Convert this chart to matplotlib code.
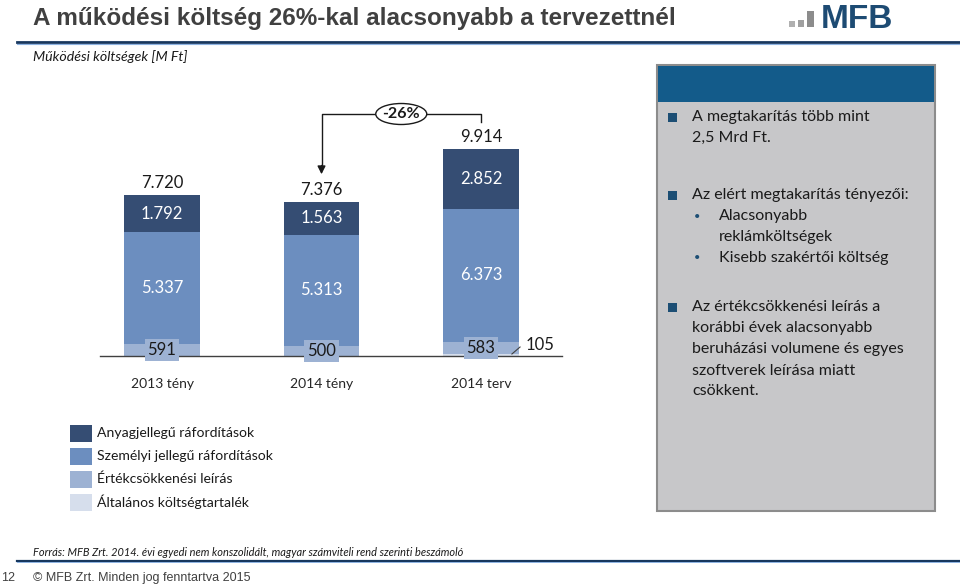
import matplotlib
matplotlib.use("Agg")
import matplotlib.pyplot as plt
from matplotlib.patches import Rectangle, Ellipse
from matplotlib.lines import Line2D

# ---------------- data ----------------
categories = ['2013 tény', '2014 tény', '2014 terv']
altalanos = [0, 0, 105]          # Általános költségtartalék
ertekcsokk = [591, 500, 583]     # Értékcsökkenési leírás
szemelyi = [5337, 5313, 6373]    # Személyi jellegű ráfordítások
anyag = [1792, 1563, 2852]       # Anyagjellegű ráfordítások
totals = [7720, 7376, 9914]
change_label = '-26%'

series_names = ['Anyagjellegű ráfordítások', 'Személyi jellegű ráfordítások',
                'Értékcsökkenési leírás', 'Általános költségtartalék']
colors = {'anyag': '#354D73', 'szemelyi': '#6C8EBF',
          'ertek': '#9DB2D3', 'alt': '#D6DEEC'}

BODY = ['Lato', 'DejaVu Sans']
NARROW = ['Liberation Sans Narrow', 'Liberation Sans', 'DejaVu Sans']
W, H = 960, 588


def fmt(v):
    return f"{v:,}".replace(',', '.')


def fx(px):
    return px / W


def fy(py):
    return 1 - py / H


fig = plt.figure(figsize=(9.6, 5.88), dpi=100)
fig.patch.set_facecolor('white')

# ---------------- header ----------------
fig.text(fx(33), fy(18), 'A működési költség 26%-kal alacsonyabb a tervezettnél',
         fontsize=17.5, weight='bold', color='#404040', va='center', ha='left',
         family=NARROW)
fig.add_artist(Line2D([fx(17), fx(960)], [fy(41.5), fy(41.5)], color='#17375E', lw=2.0))
fig.add_artist(Line2D([fx(17), fx(960)], [fy(43.5), fy(43.5)], color='#8DB3E2', lw=0.8))

# logo
for (x0, y0, x1, c) in [(789, 21, 795, '#B0B0B0'), (798, 20, 804, '#A0A0A0'), (807, 11, 814, '#8C8C8C')]:
    fig.add_artist(Rectangle((fx(x0), fy(27)), fx(x1) - fx(x0), fy(y0) - fy(27),
                             transform=fig.transFigure, color=c, lw=0))
fig.text(fx(821), fy(27.5), 'MFB', fontsize=24, weight='bold', color='#1D4B73',
         va='baseline', ha='left', family=['Liberation Sans', 'DejaVu Sans'])

fig.text(fx(33), fy(57), 'Működési költségek [M Ft]', fontsize=10.2, style='italic',
         color='#1a1a1a', va='center', ha='left', family=BODY)

# ---------------- bar chart ----------------
ax = fig.add_axes([fx(100), fy(356), (562 - 100) / W, (356 - 90) / H])
px_per_unit = 207 / 9914
ymax = 266 / px_per_unit
ax.set_ylim(0, ymax)
ax.set_xlim(-0.389, 2.508)
for s in ['top', 'right', 'left']:
    ax.spines[s].set_visible(False)
ax.spines['bottom'].set_color('#404040')
ax.spines['bottom'].set_linewidth(1.0)
ax.set_yticks([])
ax.set_xticks([])
ax.patch.set_alpha(0)

x = list(range(len(categories)))
bw = 0.476
ax.bar(x, altalanos, bw, color=colors['alt'], lw=0)
bottom1 = [a for a in altalanos]
ax.bar(x, ertekcsokk, bw, bottom=bottom1, color=colors['ertek'], lw=0)
bottom2 = [a + b for a, b in zip(bottom1, ertekcsokk)]
ax.bar(x, szemelyi, bw, bottom=bottom2, color=colors['szemelyi'], lw=0)
bottom3 = [a + b for a, b in zip(bottom2, szemelyi)]
ax.bar(x, anyag, bw, bottom=bottom3, color=colors['anyag'], lw=0)

for i in x:
    ax.text(i, bottom3[i] + anyag[i] / 2, fmt(anyag[i]), ha='center', va='center',
            color='white', fontsize=12, family=BODY)
    ax.text(i, bottom2[i] + szemelyi[i] / 2, fmt(szemelyi[i]), ha='center', va='center',
            color='white', fontsize=12, family=BODY)
    ax.text(i, bottom1[i] + ertekcsokk[i] / 2, fmt(ertekcsokk[i]), ha='center', va='center',
            color='#1a1a1a', fontsize=12, family=BODY,
            bbox=dict(boxstyle='square,pad=0.18', fc=colors['ertek'], ec='none'))
    ax.text(i, totals[i] + 12 / px_per_unit, fmt(totals[i]), ha='center', va='center',
            color='#1a1a1a', fontsize=12, family=BODY)
    ax.text(i, -28 / px_per_unit, categories[i], ha='center', va='center',
            color='#262626', fontsize=10, family=BODY, clip_on=False)

# 105 label with leader
ax.plot([2.194, 2.245], [96, 431], color='#404040', lw=0.8, clip_on=False)
ax.text(2.28, 527, fmt(altalanos[2]), ha='left', va='center', color='#1a1a1a',
        fontsize=12, family=BODY, clip_on=False)

# -26% bracket
yb = (356 - 114) / px_per_unit
ax.plot([2.0, 2.0, 1.0, 1.0], [totals[2] + 1300, yb, yb, totals[1] + 1700],
        color='#1a1a1a', lw=1.0, clip_on=False)
ax.annotate('', xy=(1.0, totals[1] + 1330), xytext=(1.0, totals[1] + 1750),
            arrowprops=dict(arrowstyle='-|>', color='#1a1a1a', lw=1.0,
                            mutation_scale=12, shrinkA=0, shrinkB=0))
ell = Ellipse((1.5, yb), 51 / 159.5, 21 / px_per_unit, fc='white', ec='#1a1a1a', lw=1.0, zorder=5)
ax.add_patch(ell)
ax.text(1.5, yb, change_label, ha='center', va='center', fontsize=11.5, weight='bold',
        color='#1a1a1a', family=BODY, zorder=6)

# ---------------- legend ----------------
leg_colors = [colors['anyag'], colors['szemelyi'], colors['ertek'], colors['alt']]
for k, (name, c) in enumerate(zip(series_names, leg_colors)):
    yc = 433 + 23 * k
    fig.add_artist(Rectangle((fx(70), fy(yc + 8.5)), fx(92) - fx(70), fy(yc - 8.5) - fy(yc + 8.5),
                             transform=fig.transFigure, color=c, lw=0))
    fig.text(fx(97), fy(yc), name, fontsize=10.1, color='#1a1a1a', va='center', ha='left',
             family=BODY)

# ---------------- right info box ----------------
fig.add_artist(Rectangle((fx(657), fy(511)), fx(935) - fx(657), fy(65) - fy(511),
                         transform=fig.transFigure, fc='#C7C7C9', ec='#8C8C8C', lw=1.5))
fig.add_artist(Rectangle((fx(658), fy(102)), fx(934) - fx(658), fy(66) - fy(102),
                         transform=fig.transFigure, fc='#135B8A', ec='none', lw=0))

lines = [
    ('sq', 117, 'A megtakarítás több mint'),
    ('', 138, '2,5 Mrd Ft.'),
    ('sq', 195, 'Az elért megtakarítás tényezői:'),
    ('dot', 216, 'Alacsonyabb'),
    ('', 237, 'reklámköltségek'),
    ('dot', 258, 'Kisebb szakértői költség'),
    ('sq', 307, 'Az értékcsökkenési leírás a'),
    ('', 328, 'korábbi évek alacsonyabb'),
    ('', 349, 'beruházási volumene és egyes'),
    ('', 371, 'szoftverek leírása miatt'),
    ('', 391, 'csökkent.'),
]
sub_idx = {3, 4, 5}
for k, (kind, yc, txt) in enumerate(lines):
    xt = 719 if k in sub_idx else 692
    if kind == 'sq':
        fig.add_artist(Rectangle((fx(668), fy(yc + 4.5)), fx(677) - fx(668), fy(yc - 4.5) - fy(yc + 4.5),
                                 transform=fig.transFigure, color='#1C4E74', lw=0))
    elif kind == 'dot':
        fig.text(fx(694), fy(yc), '•', fontsize=8, color='#1C4E74', va='center', ha='left',
                 family=BODY)
    fig.text(fx(xt), fy(yc), txt, fontsize=11.5, color='#1a1a1a', va='center', ha='left',
             family=BODY)

# ---------------- footer ----------------
fig.text(fx(33), fy(553), 'Forrás: MFB Zrt. 2014. évi egyedi nem konszolidált, magyar számviteli rend szerinti beszámoló',
         fontsize=7.9, style='italic', color='#1a1a1a', va='center', ha='left', family=BODY)
fig.add_artist(Line2D([fx(17), fx(960)], [fy(560.5), fy(560.5)], color='#17375E', lw=1.6))
fig.add_artist(Line2D([fx(17), fx(960)], [fy(562.2), fy(562.2)], color='#8DB3E2', lw=0.7))
fig.text(fx(1), fy(578), '12', fontsize=9, color='#404040', va='center', ha='left',
         family=NARROW)
fig.text(fx(33), fy(578), '© MFB Zrt. Minden jog fenntartva 2015', fontsize=9, color='#404040',
         va='center', ha='left', family=NARROW)

fig.savefig('out.png', dpi=100, facecolor='white')
